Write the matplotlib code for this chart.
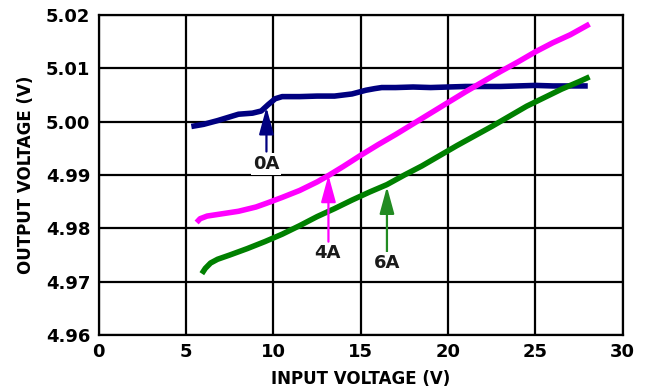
import matplotlib
matplotlib.use("Agg")
import matplotlib.pyplot as plt

# output voltage vs input voltage at three load currents
x_0a = [5.3, 6.0, 6.8, 7.4, 8.0, 8.8, 9.3, 9.7, 10.1, 10.5, 11.5, 12.5, 13.5, 14.5,
        15.3, 15.8, 16.2, 17.0, 18.0, 19.0, 20.0, 21.0, 22.0, 23.0, 24.0, 25.0,
        26.0, 27.0, 28.0]
y_0a = [4.9991, 4.9995, 5.0002, 5.0008, 5.0014, 5.0016, 5.0020, 5.0032, 5.0043,
        5.0047, 5.0047, 5.0048, 5.0048, 5.0052, 5.0059, 5.0062, 5.0064, 5.0064,
        5.0065, 5.0064, 5.0065, 5.0066, 5.0066, 5.0066, 5.0067, 5.0068, 5.0067,
        5.0067, 5.0067]

x_4a = [5.6, 5.8, 6.2, 7.0, 8.0, 9.0, 9.6, 10.5, 11.5, 12.5, 13.2, 14.0, 15.0,
        16.0, 17.0, 18.0, 19.0, 20.0, 21.0, 22.0, 23.0, 24.0, 25.0, 26.0, 27.0, 28.1]
y_4a = [4.9811, 4.9818, 4.9823, 4.9827, 4.9832, 4.9840, 4.9847, 4.9858, 4.9871,
        4.9887, 4.9900, 4.9916, 4.9937, 4.9957, 4.9976, 4.9996, 5.0016, 5.0036,
        5.0056, 5.0075, 5.0094, 5.0112, 5.0131, 5.0148, 5.0163, 5.0183]

x_6a = [5.9, 6.1, 6.4, 6.8, 7.5, 8.5, 9.5, 10.5, 11.5, 12.5, 13.5, 14.5, 15.5,
        16.5, 17.5, 18.5, 19.5, 20.5, 21.5, 22.5, 23.5, 24.5, 25.5, 26.5, 27.5, 28.1]
y_6a = [4.9715, 4.9725, 4.9735, 4.9742, 4.9750, 4.9762, 4.9775, 4.9789, 4.9805,
        4.9822, 4.9837, 4.9853, 4.9868, 4.9882, 4.9900, 4.9917, 4.9936, 4.9955,
        4.9973, 4.9991, 5.0010, 5.0029, 5.0045, 5.0061, 5.0075, 5.0084]

# callouts: label, arrow tip, arrow tail, label position
labels = ["0A", "4A", "6A"]
tips = [(9.6, 5.0027), (13.15, 4.9900), (16.5, 4.9878)]
tails = [(9.6, 4.9944), (13.15, 4.9775), (16.5, 4.9756)]
label_pos = [(9.6, 4.9921), (13.1, 4.9753), (16.5, 4.9735)]
arrow_colors = ["#000080", "#ff00ff", "#228b22"]

yticks = [4.96, 4.97, 4.98, 4.99, 5.00, 5.01, 5.02]
ytick_labels = ["4.96", "4.97", "4.98", "4.99", "5.00", "5.01", "5.02"]

plt.rcParams["font.family"] = "DejaVu Sans"
plt.rcParams["font.weight"] = "bold"

fig = plt.figure(figsize=(6.5, 3.92), dpi=100)
ax = fig.add_axes([0.152, 0.1454, 0.806, 0.8163])

ax.plot(x_0a, y_0a, color="#000080", lw=4, solid_capstyle="butt", zorder=3)
ax.plot(x_4a, y_4a, color="#ff00ff", lw=4, solid_capstyle="butt", zorder=3)
ax.plot(x_6a, y_6a, color="#008000", lw=4, solid_capstyle="butt", zorder=3)

for lab, tip, tail, pos, c in zip(labels, tips, tails, label_pos, arrow_colors):
    ax.annotate("", xy=tip, xytext=tail,
                arrowprops=dict(arrowstyle="-|>,head_length=1.1,head_width=0.3",
                                mutation_scale=15, color=c, lw=1.6,
                                shrinkA=0, shrinkB=0), zorder=4)
    ax.text(pos[0], pos[1], lab, ha="center", va="center", fontsize=13,
            fontweight="bold", color="#1a1a1a", zorder=5,
            bbox=dict(boxstyle="square,pad=0.1", fc="white", ec="none"))

ax.set_xlim(0, 30)
ax.set_ylim(4.96, 5.02)
ax.set_xticks(range(0, 31, 5))
ax.set_yticks(yticks)
ax.set_yticklabels(ytick_labels)
ax.tick_params(length=0, labelsize=13, pad=6)
for lbl in ax.get_xticklabels() + ax.get_yticklabels():
    lbl.set_fontweight("bold")

ax.grid(True, color="black", lw=1.6)
ax.set_axisbelow(True)
for sp in ax.spines.values():
    sp.set_linewidth(1.6)

ax.set_xlabel("INPUT VOLTAGE (V)", fontsize=12, fontweight="bold", labelpad=6)
ax.set_ylabel("OUTPUT VOLTAGE (V)", fontsize=12, fontweight="bold", labelpad=8)

fig.savefig("out.png", dpi=100)
